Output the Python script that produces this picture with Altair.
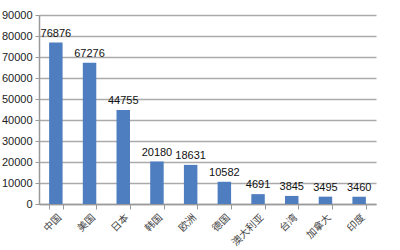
import altair as alt
import pandas as pd

categories = ["中国", "美国", "日本", "韩国", "欧洲", "德国", "澳大利亚", "台湾", "加拿大", "印度"]
values = [76876, 67276, 44755, 20180, 18631, 10582, 4691, 3845, 3495, 3460]
y_ticks = [0, 10000, 20000, 30000, 40000, 50000, 60000, 70000, 80000, 90000]

df = pd.DataFrame({"cat": categories, "val": values})

FONT = "Liberation Sans"

x = alt.X("cat:N", sort=categories, title=None,
          scale=alt.Scale(paddingInner=0.6, paddingOuter=0.3),
          axis=alt.Axis(labelAngle=-45, labelFontSize=10, labelColor="#444",
                        labelFont="Noto Sans CJK SC", domainColor="#999", domainWidth=1.5,
                        tickColor="#999", tickBand="extent", tickSize=5, labelPadding=3,
                        labelOverlap=False))
y = alt.Y("val:Q", title=None,
          scale=alt.Scale(domain=[0, 90000], nice=False),
          axis=alt.Axis(values=y_ticks, format="d", labelFontSize=11, labelColor="#222",
                        labelFont=FONT, gridColor="#aaa", gridWidth=1.5,
                        domainColor="#999", domainWidth=1.5, tickColor="#999",
                        tickSize=4, labelPadding=3, labelOverlap=False, labelFlush=False))

base = alt.Chart(df).encode(x=x, y=y)
bars = base.mark_bar(color="#4F7EC0")
texts = base.mark_text(dy=-9, fontSize=11, font=FONT, color="#111").encode(text="val:Q")

chart = alt.layer(bars, texts).properties(
    width=337, height=189,
    background="white",
    autosize=alt.AutoSizeParams(type="none"),
    padding={"left": 39, "top": 15, "right": 24, "bottom": 46},
).configure_view(strokeWidth=0, stroke="transparent")

chart.save("out.html", embed_options={"renderer": "svg", "actions": False})
